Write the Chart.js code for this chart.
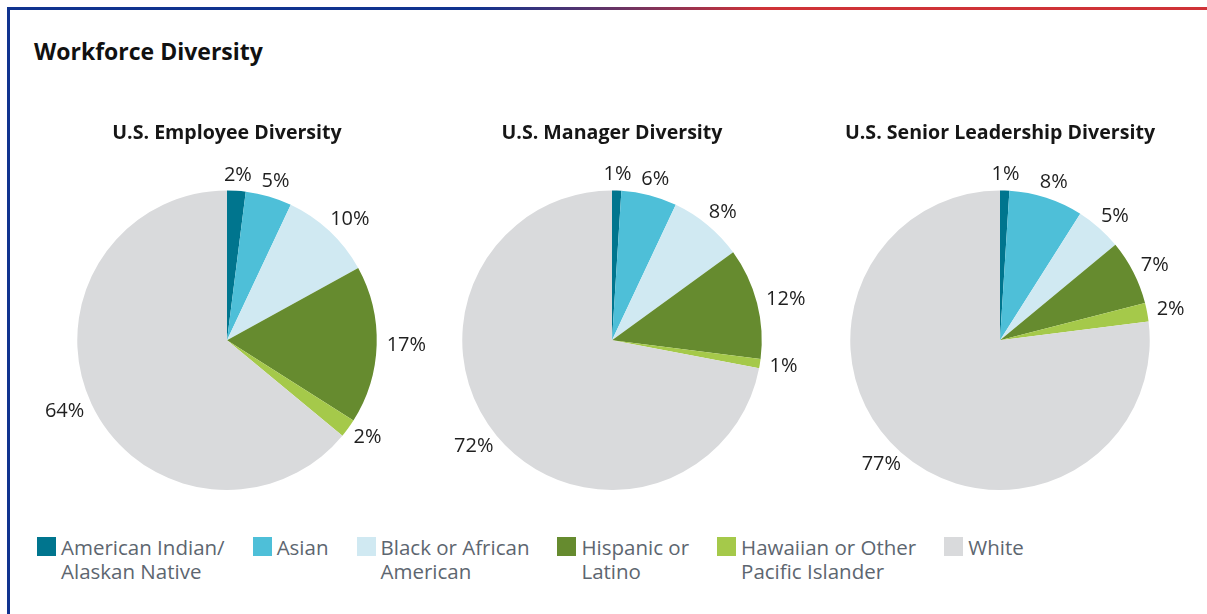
<!DOCTYPE html>
<html>
<head>
<meta charset="utf-8">
<title>Workforce Diversity</title>
<script src="https://cdn.jsdelivr.net/npm/chart.js@4.4.1/dist/chart.umd.min.js"></script>
<style>
    html, body { margin: 0; padding: 0; background: #fff; overflow: hidden; }
    body { width: 1207px; height: 614px; position: relative; font-family: "Open Sans", "Noto Sans", sans-serif; }
    .frame-top {
        position: absolute; left: 7px; top: 7px; width: 1200px; height: 3px;
        background: linear-gradient(to right, #10338f 0%, #10338f 39%, #6a3464 51%, #cf3237 63%, #cf3237 100%);
    }
    .frame-left { position: absolute; left: 7px; top: 7px; width: 3px; height: 607px; background: #10338f; }
    h1 {
        position: absolute; left: 34px; top: 35px; margin: 0;
        font-size: 23px; font-weight: 700; color: #111;
    }
    canvas.pie { position: absolute; top: 110px; }
    #legend {
        position: absolute; left: 37px; top: 535px;
        display: flex; gap: 28px;
        font-size: 20.5px; line-height: 24px; color: #5d6670;
    }
    .item { display: flex; align-items: flex-start; }
    .box { width: 19px; height: 19px; margin-top: 2px; margin-right: 5px; flex: none; }
</style>
</head>
<body>
<div class="frame-top"></div>
<div class="frame-left"></div>
<h1>Workforce Diversity</h1>
<canvas class="pie" id="pie1" width="420" height="390" style="left:17px"></canvas>
<canvas class="pie" id="pie2" width="420" height="390" style="left:402px"></canvas>
<canvas class="pie" id="pie3" width="420" height="390" style="left:790px"></canvas>
<div id="legend"></div>

<script>
// categories (legend lines)
const categories = [
    ["American Indian/", "Alaskan Native"],
    ["Asian"],
    ["Black or African", "American"],
    ["Hispanic or", "Latino"],
    ["Hawaiian or Other", "Pacific Islander"],
    ["White"]
];
const colors = ["#00758e", "#4ebfd8", "#d0e9f2", "#668b2f", "#a5c94a", "#d9dadc"];

// percentages per group, same order as categories
const employeeValues = [2, 5, 10, 17, 2, 64];
const managerValues = [1, 6, 8, 12, 1, 72];
const leadershipValues = [1, 8, 5, 7, 2, 77];

const pieTitles = ["U.S. Employee Diversity", "U.S. Manager Diversity", "U.S. Senior Leadership Diversity"];

// draws the "NN%" labels just outside each slice
const outsideLabels = {
    id: 'outsideLabels',
    afterDatasetsDraw(chart) {
        const ctx = chart.ctx;
        const meta = chart.getDatasetMeta(0);
        const values = chart.data.datasets[0].data;
        ctx.save();
        ctx.font = '20px "Open Sans", "Noto Sans", sans-serif';
        ctx.fillStyle = '#1f1f1f';
        ctx.textAlign = 'center';
        ctx.textBaseline = 'middle';
        meta.data.forEach((arc, i) => {
            const p = arc.getProps(['x', 'y', 'startAngle', 'endAngle', 'outerRadius'], true);
            const mid = (p.startAngle + p.endAngle) / 2;
            const text = values[i] + '%';
            const halfW = ctx.measureText(text).width / 2;
            const halfH = 6;
            const r = p.outerRadius + 10;
            const x = p.x + Math.cos(mid) * (r + halfW);
            const y = p.y + Math.sin(mid) * (r + halfH);
            ctx.fillText(text, x, y);
        });
        ctx.restore();
    }
};

function drawPie(id, title, values) {
    const ctx = document.getElementById(id);
    new Chart(ctx, {
        type: 'pie',
        data: {
            labels: categories.map(c => c.join(' ')),
            datasets: [{
                data: values,
                backgroundColor: colors,
                borderWidth: 0
            }]
        },
        options: {
            responsive: false,
            animation: false,
            layout: { padding: { bottom: 10 } },
            plugins: {
                legend: { display: false },
                tooltip: { enabled: false },
                title: {
                    display: true,
                    text: title,
                    color: '#161616',
                    font: { family: '"Open Sans", "Noto Sans", sans-serif', size: 19.6, weight: 'bold' },
                    padding: { top: 12, bottom: 45 }
                }
            }
        },
        plugins: [outsideLabels]
    });
}

function buildLegend() {
    const el = document.getElementById('legend');
    categories.forEach((lines, i) => {
        const item = document.createElement('div');
        item.className = 'item';
        const box = document.createElement('span');
        box.className = 'box';
        box.style.background = colors[i];
        const txt = document.createElement('span');
        txt.innerHTML = lines.join('<br>');
        item.appendChild(box);
        item.appendChild(txt);
        el.appendChild(item);
    });
}

drawPie('pie1', pieTitles[0], employeeValues);
drawPie('pie2', pieTitles[1], managerValues);
drawPie('pie3', pieTitles[2], leadershipValues);
buildLegend();
</script>
</body>
</html>
